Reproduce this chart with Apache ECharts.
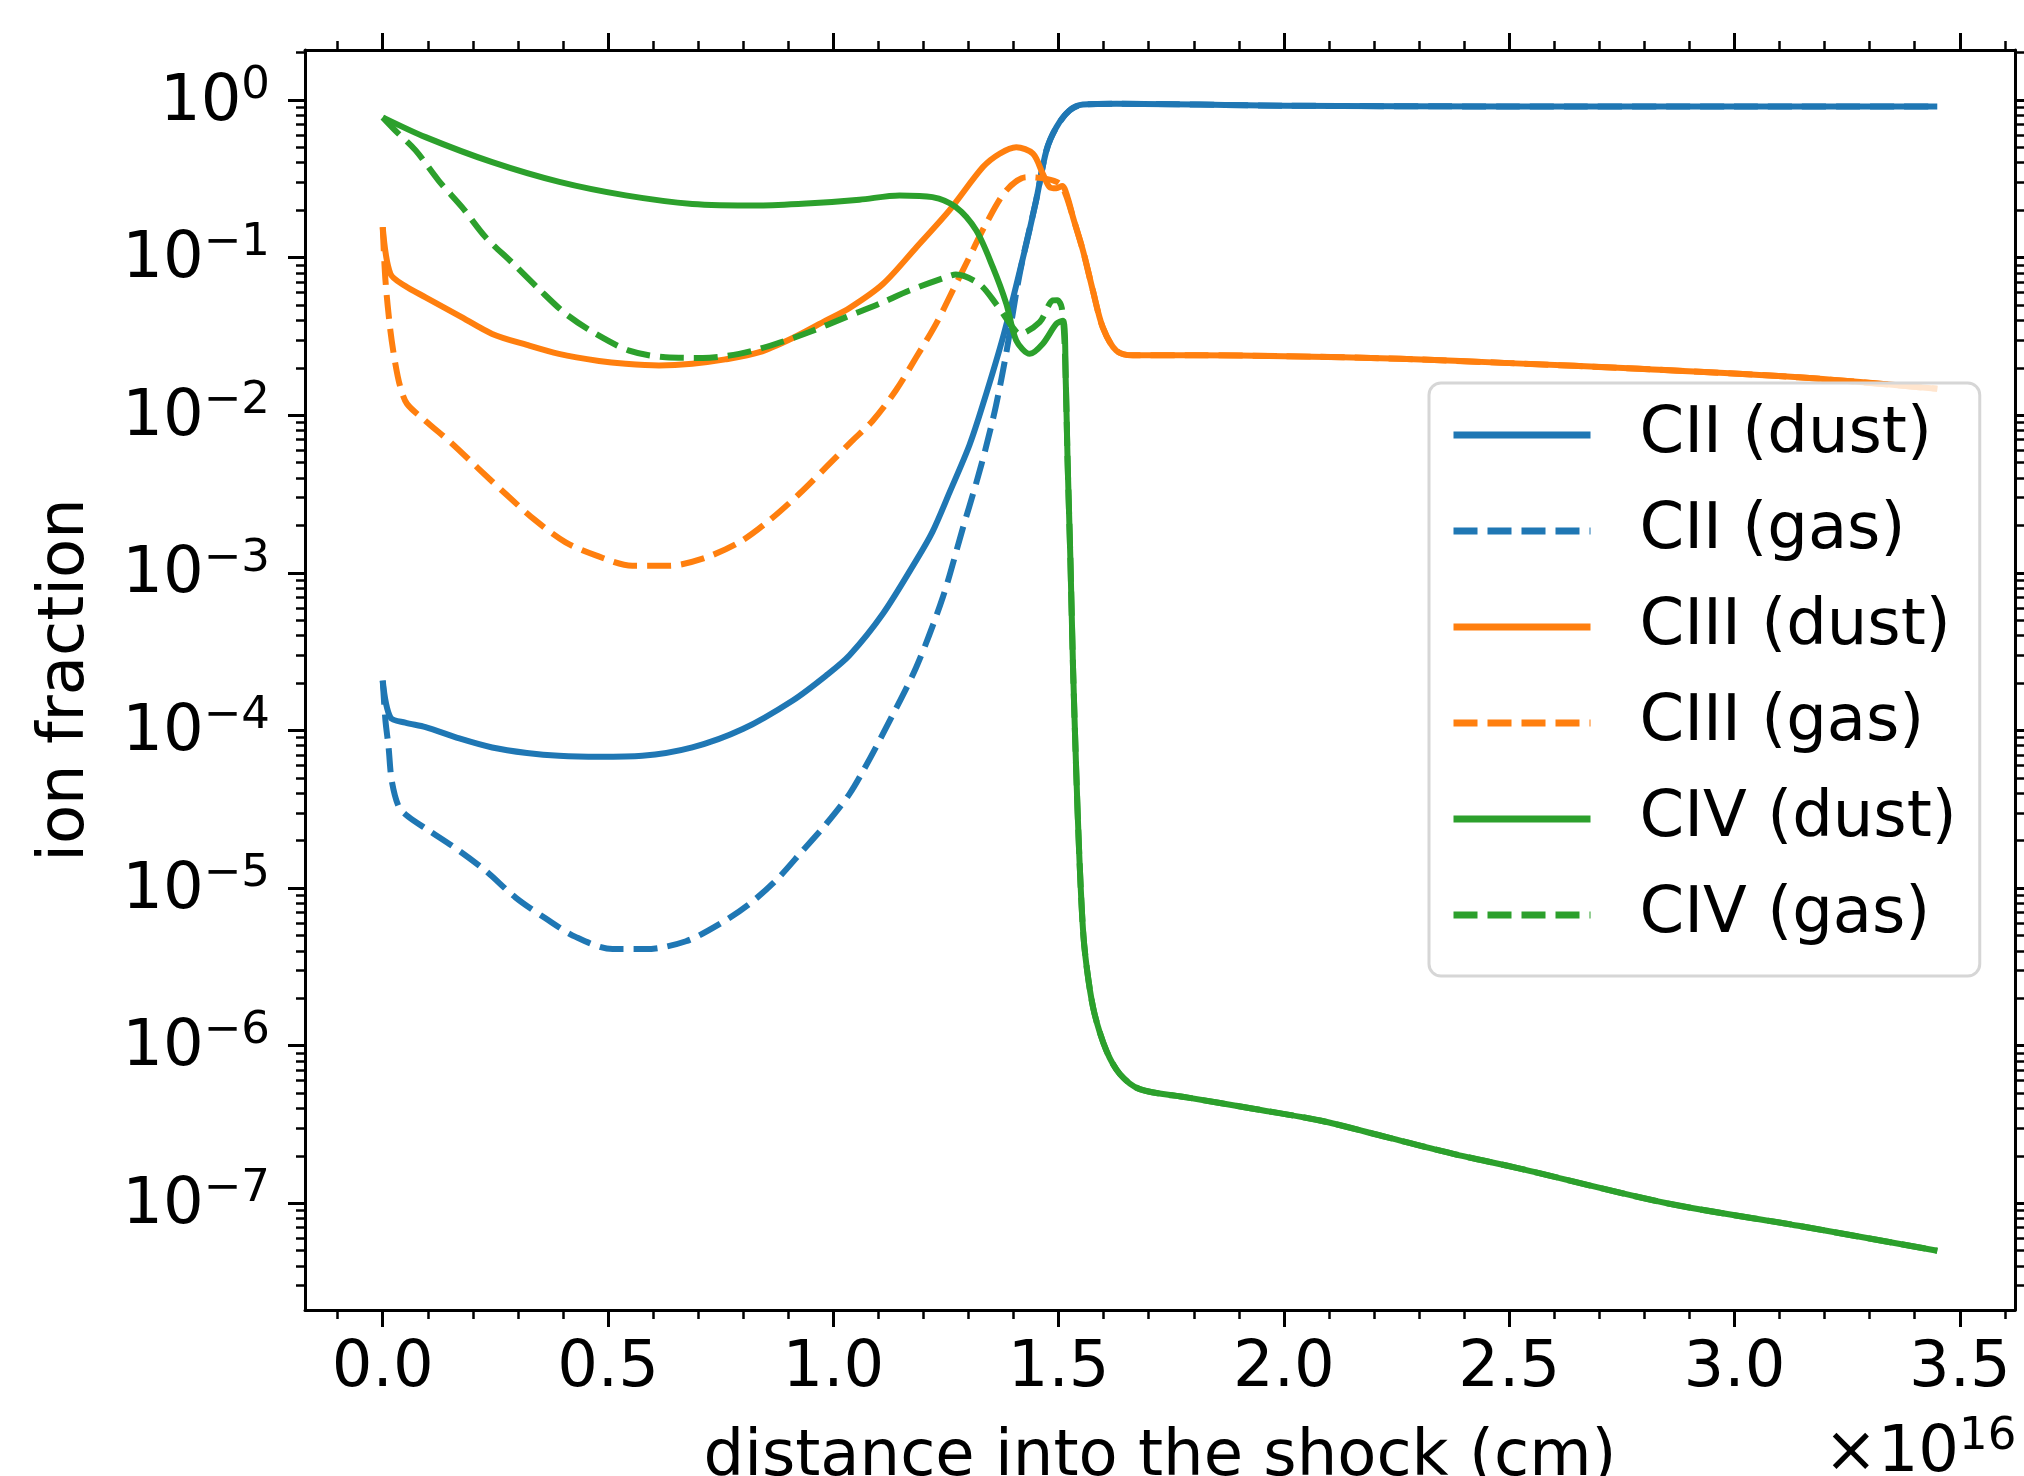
<!DOCTYPE html>
<html><head><meta charset="utf-8">
<script src="https://cdn.jsdelivr.net/npm/echarts@6/dist/echarts.min.js"></script>
<style>html,body{margin:0;padding:0;background:#fff}#c{width:2024px;height:1476px}</style>
</head><body><div id="c"></div>
<script>
// ---- data (x in units of 1e16 cm, y = ion fraction) ----
const seriesNames = ['CII (dust)', 'CII (gas)', 'CIII (dust)', 'CIII (gas)', 'CIV (dust)', 'CIV (gas)'];
const seriesColors = ['#1f77b4', '#1f77b4', '#ff7f0e', '#ff7f0e', '#2ca02c', '#2ca02c'];

const CII_dust = [[0,2.07e-4],[0.017,1.21e-4],[0.05,1.12e-4],[0.095,1.05e-4],[0.17,8.9e-5],[0.243,7.8e-5],[0.32,7.2e-5],[0.391,6.9e-5],[0.48,6.8e-5],[0.576,6.9e-5],[0.687,7.8e-5],[0.799,1.02e-4],[0.91,1.55e-4],[0.984,2.23e-4],[1.036,3.0e-4],[1.11,5.5e-4],[1.184,1.2e-3],[1.22,1.82e-3],[1.258,3.24e-3],[1.302,6.45e-3],[1.332,1.17e-2],[1.377,3.16e-2],[1.421,0.1],[1.45,0.23],[1.473,0.479],[1.495,0.671],[1.524,0.857],[1.554,0.935],[1.628,0.946],[2.0,0.92],[2.5,0.91],[3.0,0.91],[3.45,0.91]];
const CII_gas = [[0,2.07e-4],[0.006,1.16e-4],[0.013,7.8e-5],[0.02,4.8e-5],[0.036,3.26e-5],[0.058,2.82e-5],[0.102,2.32e-5],[0.169,1.73e-5],[0.228,1.29e-5],[0.295,8.7e-6],[0.362,6.4e-6],[0.428,4.9e-6],[0.51,4.1e-6],[0.584,4.1e-6],[0.673,4.6e-6],[0.747,5.9e-6],[0.813,7.9e-6],[0.873,1.12e-5],[0.932,1.73e-5],[0.984,2.55e-5],[1.036,3.96e-5],[1.07,5.8e-5],[1.11,9.5e-5],[1.184,2.52e-4],[1.243,7.0e-4],[1.287,1.9e-3],[1.317,3.7e-3],[1.339,6.3e-3],[1.361,1.15e-2],[1.384,2.5e-2],[1.406,6.0e-2],[1.421,0.1],[1.45,0.23],[1.473,0.479],[1.495,0.671],[1.524,0.857],[1.554,0.935],[1.628,0.946],[2.0,0.92],[2.5,0.91],[3.0,0.91],[3.45,0.91]];
const CIII_dust = [[0,0.156],[0.017,7.9e-2],[0.05,6.6e-2],[0.095,5.6e-2],[0.17,4.27e-2],[0.243,3.28e-2],[0.32,2.79e-2],[0.391,2.45e-2],[0.48,2.21e-2],[0.539,2.12e-2],[0.613,2.07e-2],[0.687,2.12e-2],[0.76,2.26e-2],[0.836,2.51e-2],[0.91,3.09e-2],[0.983,3.98e-2],[1.036,4.79e-2],[1.11,6.8e-2],[1.184,0.116],[1.258,0.2],[1.332,0.375],[1.369,0.456],[1.406,0.501],[1.443,0.456],[1.465,0.34],[1.48,0.28],[1.495,0.275],[1.508,0.285],[1.52,0.24],[1.532,0.18],[1.554,0.111],[1.576,6.18e-2],[1.598,3.61e-2],[1.628,2.57e-2],[1.665,2.4e-2],[1.8,2.4e-2],[2.0,2.37e-2],[2.258,2.28e-2],[2.5,2.14e-2],[2.789,1.97e-2],[3.142,1.74e-2],[3.45,1.47e-2]];
const CIII_gas = [[0,0.156],[0.006,7.2e-2],[0.017,3.44e-2],[0.028,2.12e-2],[0.039,1.51e-2],[0.054,1.18e-2],[0.095,9.2e-3],[0.154,6.6e-3],[0.213,4.57e-3],[0.273,3.16e-3],[0.339,2.15e-3],[0.406,1.56e-3],[0.473,1.29e-3],[0.554,1.11e-3],[0.636,1.11e-3],[0.71,1.23e-3],[0.791,1.56e-3],[0.858,2.15e-3],[0.924,3.16e-3],[0.984,4.68e-3],[1.04,6.8e-3],[1.087,9.2e-3],[1.139,1.44e-2],[1.184,2.33e-2],[1.228,3.8e-2],[1.265,6.18e-2],[1.302,0.1007],[1.339,0.164],[1.384,0.267],[1.428,0.324],[1.473,0.316],[1.502,0.295],[1.516,0.25],[1.532,0.18],[1.554,0.111],[1.576,6.18e-2],[1.598,3.61e-2],[1.628,2.57e-2],[1.665,2.4e-2],[1.8,2.4e-2],[2.0,2.37e-2],[2.258,2.28e-2],[2.5,2.14e-2],[2.789,1.97e-2],[3.142,1.74e-2],[3.45,1.47e-2]];
const CIV_dust = [[0,0.776],[0.095,0.581],[0.243,0.403],[0.392,0.302],[0.539,0.248],[0.687,0.219],[0.836,0.214],[0.95,0.221],[1.058,0.233],[1.147,0.248],[1.22,0.242],[1.272,0.209],[1.317,0.149],[1.354,8.7e-2],[1.384,5.09e-2],[1.406,2.98e-2],[1.436,2.45e-2],[1.465,2.84e-2],[1.495,3.8e-2],[1.51,3.98e-2],[1.516,1.58e-2],[1.52,5.0e-3],[1.526,1.26e-3],[1.532,2.5e-4],[1.539,5.6e-5],[1.546,1.58e-5],[1.555,5.0e-6],[1.566,2.63e-6],[1.58,1.58e-6],[1.606,9.3e-7],[1.636,6.6e-7],[1.68,5.3e-7],[1.784,4.7e-7],[1.932,3.98e-7],[2.08,3.35e-7],[2.228,2.63e-7],[2.376,2.06e-7],[2.524,1.66e-7],[2.85,1.0e-7],[3.142,7.2e-8],[3.45,5.0e-8]];
const CIV_gas = [[0,0.776],[0.028,0.64],[0.073,0.479],[0.124,0.308],[0.176,0.209],[0.228,0.135],[0.287,9.3e-2],[0.347,6.3e-2],[0.406,4.4e-2],[0.473,3.28e-2],[0.547,2.57e-2],[0.628,2.33e-2],[0.71,2.31e-2],[0.791,2.45e-2],[0.873,2.84e-2],[0.947,3.37e-2],[1.028,4.19e-2],[1.102,5.09e-2],[1.169,6.18e-2],[1.25,7.5e-2],[1.272,7.8e-2],[1.324,6.8e-2],[1.361,5.09e-2],[1.398,3.61e-2],[1.413,3.28e-2],[1.458,3.89e-2],[1.487,5.35e-2],[1.497,5.37e-2],[1.507,4.8e-2],[1.514,2.5e-2],[1.52,5.0e-3],[1.526,1.26e-3],[1.532,2.5e-4],[1.539,5.6e-5],[1.546,1.58e-5],[1.555,5.0e-6],[1.566,2.63e-6],[1.58,1.58e-6],[1.606,9.3e-7],[1.636,6.6e-7],[1.68,5.3e-7],[1.784,4.7e-7],[1.932,3.98e-7],[2.08,3.35e-7],[2.228,2.63e-7],[2.376,2.06e-7],[2.524,1.66e-7],[2.85,1.0e-7],[3.142,7.2e-8],[3.45,5.0e-8]];
const seriesData = [CII_dust, CII_gas, CIII_dust, CIII_gas, CIV_dust, CIV_gas];

// ---- ticks ----
const xMajorTicks = [0, 0.5, 1.0, 1.5, 2.0, 2.5, 3.0, 3.5];
const xMinorTicks = [-0.1, 0.1, 0.2, 0.3, 0.4, 0.6, 0.7, 0.8, 0.9, 1.1, 1.2, 1.3, 1.4, 1.6, 1.7, 1.8, 1.9, 2.1, 2.2, 2.3, 2.4, 2.6, 2.7, 2.8, 2.9, 3.1, 3.2, 3.3, 3.4, 3.6];
const yMajorTicks = [1e-7, 1e-6, 1e-5, 1e-4, 1e-3, 1e-2, 1e-1, 1];
const yMinorMultipliers = [2, 3, 4, 5, 6, 7, 8, 9];
const yMinorDecades = [1e-8, 1e-7, 1e-6, 1e-5, 1e-4, 1e-3, 1e-2, 1e-1, 1];
const xRange = [-0.1725, 3.6225];
const yRange = [2.104e-8, 2.075];

const yMinorTicks = [];
yMinorDecades.forEach(d => yMinorMultipliers.forEach(m => yMinorTicks.push(+(m * d).toPrecision(3))));

const FONT = 'DejaVu Sans';
const black = '#000';

function yLabel(v) {
  const e = Math.round(Math.log10(v));
  return '{b|10}{s|' + (e < 0 ? '\u2212' + (-e) : String(e)) + '}';
}
const richY = {
  b: { fontSize: 64, fontFamily: FONT, color: black, lineHeight: 64 },
  s: { fontSize: 45, fontFamily: FONT, color: black, lineHeight: 24, padding: [0, 0, 34, 0] }
};

function xAxisDef(pos, major) {
  return {
    type: 'value', min: xRange[0], max: xRange[1], position: pos,
    axisLine: { show: major, onZero: false, lineStyle: { color: black, width: 3 } },
    axisTick: { show: true, inside: false, length: major ? 17 : 9, lineStyle: { color: black, width: major ? 3 : 2.5 }, customValues: major ? xMajorTicks : xMinorTicks },
    axisLabel: (major && pos === 'bottom') ? { show: true, customValues: xMajorTicks, formatter: v => v.toFixed(1), fontSize: 64, lineHeight: 64, fontFamily: FONT, color: black, margin: 27 } : { show: false },
    splitLine: { show: false }, minorTick: { show: false }
  };
}
function yAxisDef(pos, major) {
  return {
    type: 'log', logBase: 10, min: yRange[0], max: yRange[1], position: pos,
    axisLine: { show: major, onZero: false, lineStyle: { color: black, width: 3 } },
    axisTick: { show: true, inside: false, length: major ? 17 : 9, lineStyle: { color: black, width: major ? 3 : 2.5 }, customValues: major ? yMajorTicks : yMinorTicks },
    axisLabel: (major && pos === 'left') ? { show: true, customValues: yMajorTicks, formatter: yLabel, rich: richY, fontSize: 64, fontFamily: FONT, color: black, margin: 35, padding: [6, 0, 0, 0] } : { show: false },
    splitLine: { show: false }, minorTick: { show: false }
  };
}

const xAxes = [xAxisDef('bottom', true), xAxisDef('bottom', false), xAxisDef('top', true), xAxisDef('top', false)];
Object.assign(xAxes[0], { name: 'distance into the shock (cm)', nameLocation: 'middle', nameGap: 116, nameTextStyle: { fontSize: 64, fontFamily: FONT, color: black } });
const yAxes = [yAxisDef('left', true), yAxisDef('left', false), yAxisDef('right', true), yAxisDef('right', false)];
Object.assign(yAxes[0], { name: 'ion fraction', nameLocation: 'middle', nameGap: 207, nameTextStyle: { fontSize: 64, fontFamily: FONT, color: black } });

const series = seriesNames.map((n, i) => ({
  name: n, type: 'line', xAxisIndex: 0, yAxisIndex: 0,
  data: seriesData[i], symbol: 'none', showSymbol: false, smooth: 0.3,
  lineStyle: { color: seriesColors[i], width: 6, type: (i % 2 === 1) ? [24, 10] : 'solid', join: 'round' },
  itemStyle: { color: seriesColors[i] },
  emphasis: { disabled: true }, animation: false
}));

const chart = echarts.init(document.getElementById('c'), null, { renderer: 'canvas' });
chart.setOption({
  backgroundColor: '#fff',
  animation: false,
  grid: { left: 305, right: 9, top: 50, bottom: 166, containLabel: false, outerBoundsMode: 'none' },
  xAxis: xAxes,
  yAxis: yAxes,
  legend: {
    data: seriesNames, orient: 'vertical', left: 1429, top: 383,
    itemWidth: 137, itemHeight: 64, itemGap: 32,
    padding: [20, 23, 29, 21],
    backgroundColor: 'rgba(255,255,255,0.8)', borderColor: '#d6d6d6', borderWidth: 3, borderRadius: 12,
    selectedMode: false,
    itemStyle: { opacity: 0 },
    lineStyle: { width: 7 },
    textStyle: { fontSize: 64, lineHeight: 64, fontFamily: FONT, color: black, padding: [0, 0, 0, 44] }
  },
  graphic: [{
    type: 'text', x: 1824, y: 1422,
    style: {
      text: '{b|\u00d710}{s|16}', verticalAlign: 'top', align: 'left',
      rich: richY
    }
  }],
  series: series
});
</script>
</body></html>
